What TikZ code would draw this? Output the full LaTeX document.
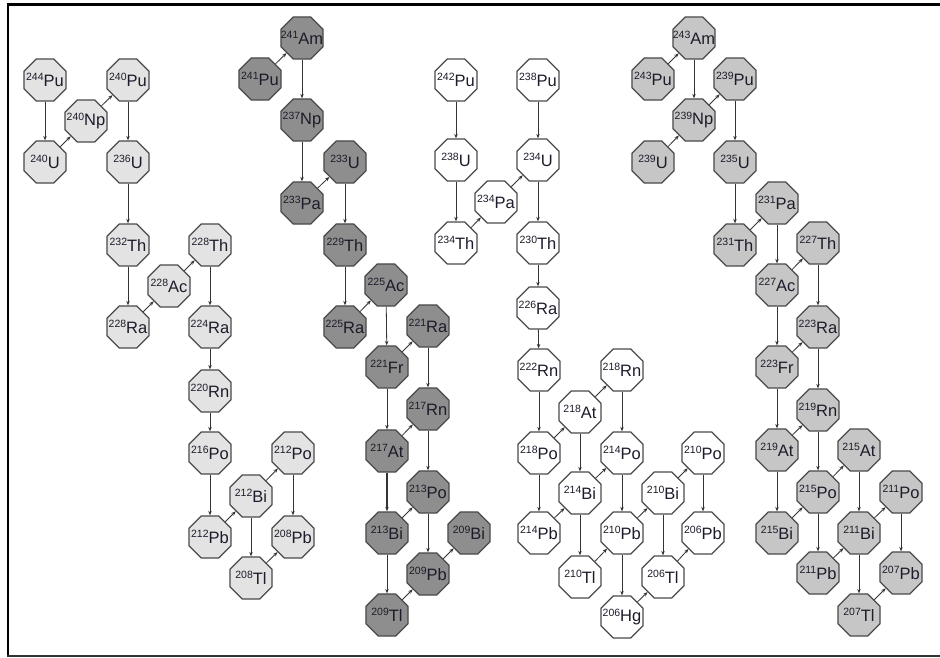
\documentclass[tikz,border=0pt]{standalone}
\usepackage{fontspec}
\setmainfont{Liberation Sans}
\usetikzlibrary{shapes.geometric,arrows.meta}
\definecolor{fillA}{HTML}{E3E3E3}
\definecolor{fillB}{HTML}{8E8E8E}
\definecolor{fillC}{HTML}{FFFFFF}
\definecolor{fillD}{HTML}{C6C6C6}
\definecolor{edgecol}{HTML}{4A4A4A}
\definecolor{arrcol}{HTML}{333333}
\definecolor{txtcol}{HTML}{1C1C2A}
\newcommand\nuc[2]{\raisebox{5.4pt}{\fontsize{10.5}{10.5}\selectfont #1}\fontsize{16.5}{16.5}\selectfont #2}
\tikzset{
  oct/.style={regular polygon, regular polygon sides=8, minimum size=45.5pt, inner sep=0pt,
    draw=edgecol, line width=1.2pt, text=txtcol, font=\fontsize{16.5}{16.5}\selectfont},
  nA/.style={oct, fill=fillA},
  nB/.style={oct, fill=fillB},
  nC/.style={oct, fill=fillC},
  nD/.style={oct, fill=fillD},
  arr/.style={draw=arrcol, line width=0.8pt, -{Stealth[length=4.5pt,width=3.5pt]}},
}
\newcommand\nd[6]{\node[#6] (#1) at (#2,#3) {\makebox[0pt]{\nuc{#4}{#5}}};}
\begin{document}
\begin{tikzpicture}[x={(1pt,0)},y={(0,-1pt)}]
\useasboundingbox (0,0) rectangle (940,658);
\fill[white] (0,0) rectangle (940,658);
% frame
\draw[black, line width=3pt] (7,4.5) -- (941,4.5);
\draw[black, line width=2pt] (8,4) -- (8,656);
\draw[black!80, line width=1.6pt] (7,656) -- (941,656);
% series A (light)
\nd{Pu244}{45}{80}{244}{Pu}{nA}
\nd{U240}{45}{162}{240}{U}{nA}
\nd{Np240}{86}{121}{240}{Np}{nA}
\nd{Pu240}{128}{80}{240}{Pu}{nA}
\nd{U236}{128}{162}{236}{U}{nA}
\nd{Th232}{128}{245}{232}{Th}{nA}
\nd{Ra228}{128}{327}{228}{Ra}{nA}
\nd{Ac228}{169}{286}{228}{Ac}{nA}
\nd{Th228}{210}{245}{228}{Th}{nA}
\nd{Ra224}{210}{327}{224}{Ra}{nA}
\nd{Rn220}{210}{391}{220}{Rn}{nA}
\nd{Po216}{210}{453}{216}{Po}{nA}
\nd{Pb212}{210}{537}{212}{Pb}{nA}
\nd{Bi212}{251}{496}{212}{Bi}{nA}
\nd{Po212}{293}{453}{212}{Po}{nA}
\nd{Pb208}{293}{537}{208}{Pb}{nA}
\nd{Tl208}{251}{578}{208}{Tl}{nA}
% series B (dark)
\nd{Am241}{302}{38}{241}{Am}{nB}
\nd{Pu241}{260}{79}{241}{Pu}{nB}
\nd{Np237}{302}{120}{237}{Np}{nB}
\nd{U233}{345}{162}{233}{U}{nB}
\nd{Pa233}{302}{203}{233}{Pa}{nB}
\nd{Th229}{345}{245}{229}{Th}{nB}
\nd{Ra225}{345}{327}{225}{Ra}{nB}
\nd{Ac225}{386}{285}{225}{Ac}{nB}
\nd{Ra221}{428}{326}{221}{Ra}{nB}
\nd{Fr221}{387}{367}{221}{Fr}{nB}
\nd{Rn217}{428}{409}{217}{Rn}{nB}
\nd{At217}{387}{451}{217}{At}{nB}
\nd{Po213}{428}{492}{213}{Po}{nB}
\nd{Bi213}{387}{533}{213}{Bi}{nB}
\nd{Bi209}{469}{533}{209}{Bi}{nB}
\nd{Pb209}{428}{574}{209}{Pb}{nB}
\nd{Tl209}{387}{615}{209}{Tl}{nB}
% series C (white)
\nd{Pu242}{456}{80}{242}{Pu}{nC}
\nd{Pu238}{538}{80}{238}{Pu}{nC}
\nd{U238}{456}{160}{238}{U}{nC}
\nd{U234}{538}{160}{234}{U}{nC}
\nd{Pa234}{496}{202}{234}{Pa}{nC}
\nd{Th234}{456}{243}{234}{Th}{nC}
\nd{Th230}{538}{243}{230}{Th}{nC}
\nd{Ra226}{538}{308}{226}{Ra}{nC}
\nd{Rn222}{539}{370}{222}{Rn}{nC}
\nd{Rn218}{622}{370}{218}{Rn}{nC}
\nd{At218}{580}{412}{218}{At}{nC}
\nd{Po218}{539}{453}{218}{Po}{nC}
\nd{Po214}{622}{453}{214}{Po}{nC}
\nd{Po210}{703}{453}{210}{Po}{nC}
\nd{Bi214}{580}{493}{214}{Bi}{nC}
\nd{Bi210}{663}{493}{210}{Bi}{nC}
\nd{Pb214}{539}{533}{214}{Pb}{nC}
\nd{Pb210}{622}{533}{210}{Pb}{nC}
\nd{Pb206}{703}{533}{206}{Pb}{nC}
\nd{Tl210}{580}{577}{210}{Tl}{nC}
\nd{Tl206}{663}{577}{206}{Tl}{nC}
\nd{Hg206}{622}{617}{206}{Hg}{nC}
% series D (medium)
\nd{Am243}{694}{38}{243}{Am}{nD}
\nd{Pu243}{653}{79}{243}{Pu}{nD}
\nd{Pu239}{735}{79}{239}{Pu}{nD}
\nd{Np239}{694}{120}{239}{Np}{nD}
\nd{U239}{653}{162}{239}{U}{nD}
\nd{U235}{735}{162}{235}{U}{nD}
\nd{Pa231}{777}{203}{231}{Pa}{nD}
\nd{Th231}{735}{245}{231}{Th}{nD}
\nd{Th227}{818}{243}{227}{Th}{nD}
\nd{Ac227}{777}{285}{227}{Ac}{nD}
\nd{Ra223}{818}{327}{223}{Ra}{nD}
\nd{Fr223}{777}{367}{223}{Fr}{nD}
\nd{Rn219}{818}{410}{219}{Rn}{nD}
\nd{At219}{777}{450}{219}{At}{nD}
\nd{At215}{859}{450}{215}{At}{nD}
\nd{Po215}{818}{492}{215}{Po}{nD}
\nd{Po211}{901}{492}{211}{Po}{nD}
\nd{Bi215}{777}{533}{215}{Bi}{nD}
\nd{Bi211}{859}{533}{211}{Bi}{nD}
\nd{Pb211}{818}{573}{211}{Pb}{nD}
\nd{Pb207}{901}{573}{207}{Pb}{nD}
\nd{Tl207}{859}{615}{207}{Tl}{nD}
% edges
\foreach \a/\b in {Pu244/U240, U240/Np240, Np240/Pu240, Pu240/U236, U236/Th232, Th232/Ra228,
  Ra228/Ac228, Ac228/Th228, Th228/Ra224, Ra224/Rn220, Rn220/Po216, Po216/Pb212, Pb212/Bi212,
  Bi212/Po212, Bi212/Tl208, Po212/Pb208, Tl208/Pb208,
  Pu241/Am241, Am241/Np237, Np237/Pa233, Pa233/U233, U233/Th229, Th229/Ra225, Ra225/Ac225,
  Ac225/Fr221, Fr221/Ra221, Fr221/At217, Ra221/Rn217, At217/Rn217, Rn217/Po213,
  Bi213/Po213, Bi213/Tl209, Po213/Pb209, Tl209/Pb209, Pb209/Bi209,
  Pu242/U238, U238/Th234, Th234/Pa234, Pa234/U234, Pu238/U234, U234/Th230, Th230/Ra226,
  Ra226/Rn222, Rn222/Po218, Po218/At218, At218/Rn218, Rn218/Po214, At218/Bi214, Po218/Pb214,
  Pb214/Bi214, Bi214/Po214, Bi214/Tl210, Po214/Pb210, Tl210/Pb210, Pb210/Bi210, Pb210/Hg206,
  Hg206/Tl206, Bi210/Po210, Bi210/Tl206, Po210/Pb206, Tl206/Pb206,
  Pu243/Am243, Am243/Np239, U239/Np239, Np239/Pu239, Pu239/U235, U235/Th231, Th231/Pa231,
  Pa231/Ac227, Ac227/Th227, Ac227/Fr223, Th227/Ra223, Fr223/Ra223, Fr223/At219, Ra223/Rn219,
  At219/Rn219, At219/Bi215, Rn219/Po215, Bi215/Po215, Po215/At215, Po215/Pb211, At215/Bi211,
  Pb211/Bi211, Bi211/Po211, Bi211/Tl207, Po211/Pb207, Tl207/Pb207}
  {\draw[arr] (\a) -- (\b);}
\draw[arr, line width=1.4pt] (At217) -- (Bi213);
\end{tikzpicture}
\end{document}
